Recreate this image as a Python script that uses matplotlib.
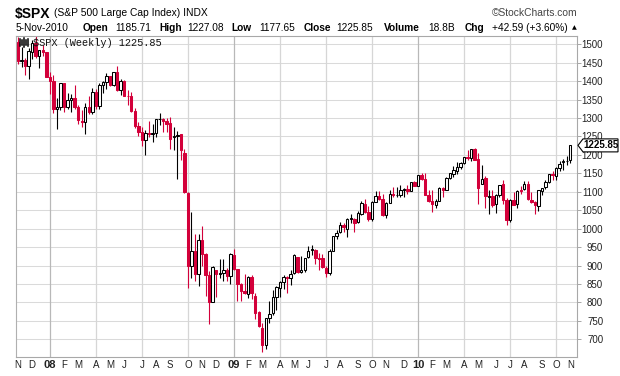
import matplotlib
matplotlib.use("Agg")
import matplotlib.pyplot as plt
from matplotlib.patches import Polygon
from matplotlib.lines import Line2D

# ---------------- data (weekly $SPX, week of 5-Nov-2007 .. week of 1-Nov-2010) ----------------
opens = [1505.6,1453.7,1458.7,1440.7,1479.6,1504.7,1468.0,1484.5,1478.5,1411.6,
         1401.0,1325.2,1330.6,1395.4,1331.3,1350.0,1353.1,1330.5,1293.2,1288.1,
         1329.5,1315.2,1370.2,1332.2,1390.3,1397.8,1413.9,1388.3,1425.3,1375.9,
         1400.1,1360.6,1360.0,1317.9,1278.1,1262.9,1239.5,1260.7,1257.8,1260.3,
         1296.3,1298.1,1292.2,1287.8,1249.5,1251.7,1255.4,1204.7,1097.6,899.2,
         940.5,876.8,968.7,931.0,873.2,801.2,888.6,876.1,879.8,886.9,
         872.4,929.2,890.4,849.6,832.2,823.1,868.2,818.5,773.2,729.6,
         684.0,756.5,772.3,814.7,839.0,855.4,868.3,866.2,879.2,922.0,
         883.7,888.7,923.3,942.5,943.4,919.9,920.8,894.3,879.6,940.6,
         979.2,990.2,1008.9,998.2,1026.6,1025.2,1016.8,1040.5,1066.6,1045.4,
         1026.9,1072.2,1088.2,1080.4,1036.2,1069.8,1094.1,1091.1,1091.1,1105.5,
         1107.8,1102.9,1127.3,1116.6,1146.0,1136.0,1092.4,1073.9,1065.1,1076.0,
         1110.0,1105.4,1138.4,1148.5,1157.2,1167.7,1178.4,1194.9,1192.4,1217.0,
         1188.6,1122.3,1136.5,1084.8,1087.3,1065.8,1091.2,1121.3,1077.5,1022.2,
         1077.2,1066.4,1103.6,1107.5,1122.1,1078.7,1073.4,1062.0,1102.6,1113.4,
         1126.7,1148.2,1144.0,1165.3,1180.5,1183.8,1185.71]
highs = [1520.8,1492.1,1462.2,1488.9,1510.6,1523.6,1485.4,1498.9,1478.5,1423.6,
         1416.7,1355.2,1396.0,1395.4,1368.7,1364.0,1388.3,1335.0,1321.7,1341.0,
         1359.7,1380.9,1379.4,1395.9,1399.6,1422.7,1415.0,1425.5,1440.2,1406.3,
         1404.1,1377.2,1370.6,1326.0,1290.1,1274.9,1266.3,1291.2,1284.5,1297.9,
         1313.2,1300.7,1300.7,1303.0,1274.4,1265.1,1255.4,1215.8,1099.2,1044.3,
         985.4,984.4,1007.5,933.4,884.9,898.2,889.0,918.9,918.9,894.6,
         934.7,943.9,890.4,851.6,877.9,870.8,875.0,826.8,777.9,743.3,
         758.3,803.0,833.0,845.6,856.9,875.6,871.8,888.7,930.2,922.9,
         924.6,919.5,951.7,956.2,946.2,934.7,930.2,898.6,943.7,979.8,
         996.7,1018.0,1016.0,1027.6,1039.5,1028.0,1048.2,1074.8,1080.2,1061.0,
         1075.6,1101.4,1101.4,1094.3,1072.4,1105.4,1113.7,1112.4,1119.7,1110.7,
         1117.7,1126.5,1130.4,1145.4,1150.4,1150.5,1103.7,1104.7,1080.0,1112.4,
         1112.4,1139.0,1151.0,1169.2,1180.7,1181.4,1194.7,1213.9,1217.3,1219.8,
         1205.1,1173.6,1141.8,1104.6,1105.7,1093.3,1119.1,1131.2,1082.6,1080.1,
         1099.1,1104.0,1115.0,1129.2,1129.2,1100.1,1075.6,1105.1,1110.9,1131.5,
         1148.9,1157.2,1167.7,1184.4,1189.5,1196.1,1227.08]
lows = [1446.0,1438.5,1416.3,1406.1,1460.7,1463.3,1435.7,1468.6,1411.2,1363.9,
        1312.4,1270.0,1322.4,1316.8,1324.8,1316.4,1325.0,1282.9,1274.9,1257.0,
        1311.3,1312.3,1324.4,1324.4,1368.2,1379.6,1386.1,1386.4,1373.1,1362.1,
        1359.4,1335.5,1317.1,1272.0,1252.5,1225.4,1200.4,1248.5,1234.4,1248.8,
        1282.5,1261.8,1261.9,1217.2,1212.9,1133.5,1187.5,1097.0,839.8,865.8,
        857.3,845.3,899.7,818.7,741.0,800.0,815.7,866.1,857.3,857.1,
        850.5,888.3,804.3,804.5,821.7,812.9,808.1,754.3,734.5,666.8,
        672.9,744.1,766.6,779.8,814.5,836.9,826.8,847.1,876.0,878.9,
        878.9,882.9,919.3,927.8,903.8,888.9,893.0,869.3,875.3,940.1,
        971.1,987.6,990.8,978.5,1016.2,992.0,1016.4,1037.2,1041.2,1019.9,
        1020.2,1071.5,1076.8,1033.4,1029.4,1069.3,1085.2,1085.6,1086.7,1085.9,
        1095.3,1102.5,1114.8,1115.1,1131.4,1090.2,1071.6,1044.5,1056.5,1075.5,
        1086.0,1105.4,1134.4,1141.1,1148.4,1161.2,1175.1,1186.5,1183.7,1185.1,
        1065.8,1121.0,1055.9,1040.8,1060.1,1042.2,1087.0,1066.6,1010.9,1018.4,
        1063.3,1056.9,1094.8,1106.2,1076.6,1069.2,1039.7,1048.1,1091.2,1107.4,
        1122.8,1131.9,1131.9,1155.7,1159.7,1171.7,1177.65]
closes = [1453.70,1458.74,1440.70,1481.14,1504.66,1467.95,1484.46,1478.49,1411.63,1401.02,
          1325.19,1330.61,1395.42,1331.29,1349.99,1353.11,1330.63,1293.37,1288.14,1329.51,
          1315.22,1370.40,1332.83,1390.33,1397.84,1413.90,1388.28,1425.35,1375.93,1400.38,
          1360.68,1360.03,1317.93,1278.38,1262.90,1239.49,1260.68,1257.76,1260.31,1296.32,
          1298.20,1292.20,1282.83,1242.31,1251.70,1255.08,1213.27,1099.23,899.22,940.55,
          876.77,968.75,930.99,873.29,800.03,896.24,876.07,879.73,887.88,872.80,
          931.80,890.35,850.12,831.95,825.88,868.60,826.84,770.05,735.09,683.38,
          756.55,768.54,815.94,842.50,856.56,869.60,866.23,877.52,929.23,882.88,
          887.00,919.14,940.09,946.21,921.23,918.90,896.42,879.13,940.38,979.26,
          987.48,1010.48,1004.09,1026.13,1028.93,1016.40,1042.73,1068.30,1044.38,1025.21,
          1071.49,1087.68,1079.60,1036.19,1069.30,1093.48,1091.38,1091.49,1105.98,1106.41,
          1102.47,1126.48,1115.10,1144.98,1136.03,1091.76,1073.87,1066.19,1075.51,1109.17,
          1104.49,1138.70,1149.99,1159.90,1166.59,1178.10,1194.37,1192.13,1217.28,1186.69,
          1110.88,1135.68,1087.69,1089.41,1064.88,1091.60,1117.51,1076.76,1022.58,1077.96,
          1064.88,1102.66,1101.60,1121.64,1079.25,1071.69,1064.59,1104.51,1109.55,1125.59,
          1148.67,1146.24,1165.15,1176.19,1183.08,1183.26,1225.85]

month_pos = [0,4,9,13,17,22,26,30,35,39,43,48,52,56,61,65,69,74,78,82,87,91,96,100,
             104,109,113,117,121,126,130,135,139,143,148,152,156]
month_lbl = ['N','D','08','F','M','A','M','J','J','A','S','O','N','D','09','F','M','A',
             'M','J','J','A','S','O','N','D','10','F','M','A','M','J','J','A','S','O','N']
quarter_pos = [9,22,35,48,61,74,87,100,113,126,139,152]
year_pos = [9,61,113]
yticks = list(range(700, 1501, 50))

RED = '#D3003A'
BLK = '#000000'
W, H = 620, 376

fig = plt.figure(figsize=(W/100, H/100), dpi=100)
fig.patch.set_facecolor('white')
L, R, T, B = 16, 577, 36, 357
ax = fig.add_axes([L/W, 1-B/H, (R-L)/W, (B-T)/H])
ax.set_xlim(-0.56, 157.9)
ax.set_ylim(652.0, 1522.5)

# grid
for v in yticks:
    ax.axhline(v, color='#DADADA', lw=0.75, zorder=0)
for q in quarter_pos:
    c = '#B8B8B8' if q in year_pos else '#D6D6D6'
    ax.axvline(q, color=c, lw=0.9, zorder=0)

# candles
n = len(closes)
for i in range(n):
    o, h, l, c = opens[i], highs[i], lows[i], closes[i]
    prev = closes[i-1] if i > 0 else o
    col = RED if c < prev else BLK
    ax.vlines(i, l, h, color=col, lw=0.8, zorder=2)
    lo, hi = min(o, c), max(o, c)
    fill = 'white' if c > o else col
    ax.bar(i, max(hi - lo, 0.8), bottom=lo, width=0.68, facecolor=fill,
           edgecolor=col, linewidth=0.75, zorder=3)

# spines
for s in ['top', 'bottom', 'right']:
    ax.spines[s].set_color('#A8A8A8')
    ax.spines[s].set_linestyle((0, (1, 1)))
    ax.spines[s].set_linewidth(0.8)
ax.spines['left'].set_color('#B0B0B0')
ax.spines['left'].set_linewidth(0.8)

# y axis on right
ax.yaxis.tick_right()
ax.set_yticks(yticks)
ax.set_yticklabels([str(v) for v in yticks])
ax.tick_params(axis='y', length=3, width=0.6, color='#999999', pad=15.8,
               labelsize=7, labelcolor='#222222')
for t in ax.get_yticklabels():
    t.set_horizontalalignment('right')
    t.set_fontfamily('Liberation Sans')

# x axis months
ax.set_xticks(month_pos)
ax.set_xticklabels(month_lbl)
ax.tick_params(axis='x', length=0, pad=2.5, labelsize=7, labelcolor='#222222')
for t in ax.get_xticklabels():
    t.set_fontfamily('Liberation Sans')
    if t.get_text() in ('08', '09', '10'):
        t.set_fontweight('bold')
        t.set_fontsize(8)

# header
F = 'Liberation Sans'
fig.text(15/W, 1-14/H, '$SPX', fontsize=10, fontweight='bold', family=F, va='center')
fig.text(54/W, 1-13/H, '(S&P 500 Large Cap Index) INDX', fontsize=7.4, family=F, va='center')
fig.text(578/W, 1-13/H, '\u00a9StockCharts.com', fontsize=7.4, family=F, va='center',
         ha='right', color='#444444')
y2 = 1-28/H
parts = [(16, '5-Nov-2010', 'normal'), (82.5, 'Open', 'bold'), (115, '1185.71', 'normal'),
         (159, 'High', 'bold'), (187, '1227.08', 'normal'), (231.5, 'Low', 'bold'),
         (259, '1177.65', 'normal'), (304, 'Close', 'bold'), (336.5, '1225.85', 'normal'),
         (383.5, 'Volume', 'bold'), (428, '18.8B', 'normal'), (465, 'Chg', 'bold'),
         (491.5, '+42.59 (+3.60%)', 'normal')]
for x, s, w in parts:
    fig.text(x/W, y2, s, fontsize=7.3, fontweight=w, family=F, va='center')
fig.text(577/W, y2, '\u25b2', fontsize=4.5, family='DejaVu Sans', va='center', ha='right')

# inner label
fig.text(33/W, 1-42.5/H, '$SPX (Weekly) 1225.85', fontsize=7.4, family='Liberation Mono',
         va='center', color='#111111')
for dx, y0, y1 in [(20, 39, 46), (22, 40, 45), (24, 38, 47), (26, 40, 45), (28, 39, 46)]:
    fig.add_artist(Line2D([dx/W, dx/W], [1-y1/H, 1-y0/H], color='black', lw=1.1))

# last price tag
fig.canvas.draw()
px, py = ax.transData.transform((157.9, closes[-1]))
py_top = H - py
pts = [(578, py_top), (583, py_top-6.5), (618, py_top-6.5), (618, py_top+6.5), (583, py_top+6.5)]
poly = Polygon([(x/W, 1-y/H) for x, y in pts], closed=True, facecolor='white',
               edgecolor='black', lw=0.8, transform=fig.transFigure, zorder=10)
fig.add_artist(poly)
fig.text(600.5/W, 1-py_top/H, f'{closes[-1]:.2f}', fontsize=7, fontweight='bold',
         family=F, va='center', ha='center', zorder=11)

fig.savefig('out.png', dpi=100)
